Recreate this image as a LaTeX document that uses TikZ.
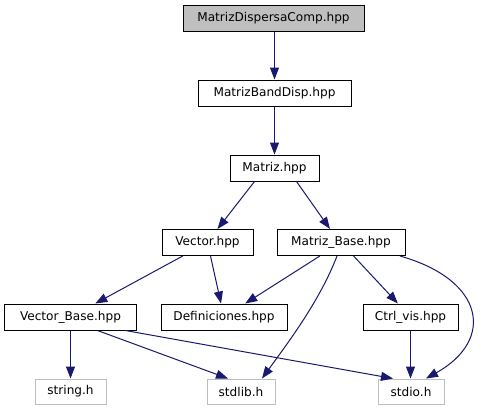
\documentclass[tikz,border=0pt]{standalone}
\usepackage{fontspec}
\setmainfont{DejaVu Sans}
\usetikzlibrary{arrows.meta}
\definecolor{edgeblue}{HTML}{191970}
\definecolor{boxgray}{HTML}{BFBFBF}
\tikzset{
  hdr/.style={draw=black, fill=white, line width=1bp, minimum height=26bp,
              inner sep=0pt, font=\fontsize{12.1bp}{14.5bp}\selectfont},
  root/.style={hdr, fill=boxgray},
  sys/.style={hdr, draw=boxgray, minimum height=25bp},
  dep/.style={-{Triangle[length=12bp, width=9bp]}, line width=1bp, edgeblue},
}

\begin{document}
\begin{tikzpicture}[x=1bp, y=-1bp]
  \useasboundingbox[fill=white] (0,0) rectangle (481,411);

  \node[root, minimum width=181bp] (mdc) at (273.5,18.5) {MatrizDispersaComp.hpp};
  \node[hdr, minimum width=153bp] (mbd) at (274.5,93) {MatrizBandDisp.hpp};
  \node[hdr, minimum width=89bp] (matriz) at (274.5,168) {Matriz.hpp};
  \node[hdr, minimum width=91bp] (vector) at (207.5,242.5) {Vector.hpp};
  \node[hdr, minimum width=128bp] (mbase) at (341,242.5) {Matriz\_Base.hpp};
  \node[hdr, minimum width=131bp] (vbase) at (70.5,317) {Vector\_Base.hpp};
  \node[hdr, minimum width=126bp] (defs) at (224,317) {Definiciones.hpp};
  \node[hdr, minimum width=95bp] (ctrl) at (410.5,317) {Ctrl\_vis.hpp};
  \node[sys, minimum width=71bp] (string) at (70.5,391.5) {string.h};
  \node[sys, minimum width=68bp] (stdlib) at (241,391.5) {stdlib.h};
  \node[sys, minimum width=66bp] (stdio) at (411,391.5) {stdio.h};

  \draw[dep] (mdc.south -| mbd.north) -- (mbd);
  \draw[dep] (mbd) -- (matriz);
  \draw[dep] ([xshift=-20bp]matriz.south) -- ([xshift=10bp]vector.north);
  \draw[dep] ([xshift=22bp]matriz.south) -- ([xshift=-11bp]mbase.north);
  \draw[dep] (vector) -- (vbase);
  \draw[dep] (vector) -- (defs);
  \draw[dep] (mbase) -- (defs);
  \draw[dep] (mbase) -- (ctrl);
  \draw[dep] ([xshift=-4bp]mbase.south) .. controls (320,300) and (290,340) .. ([xshift=21bp]stdlib.north);
  \draw[dep] ([xshift=59bp]mbase.south) .. controls (485,280) and (495,340) .. ([xshift=15bp]stdio.north);
  \draw[dep] (ctrl.south) -- (ctrl.south |- stdio.north);
  \draw[dep] (vbase) -- (string);
  \draw[dep] ([xshift=27bp]vbase.south) -- ([xshift=-13bp]stdlib.north);
  \draw[dep] ([xshift=55bp]vbase.south) -- ([xshift=-18bp]stdio.north);
\end{tikzpicture}
\end{document}
